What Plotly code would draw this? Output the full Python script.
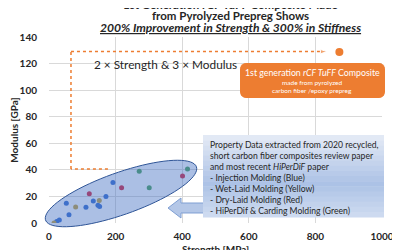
import numpy as np
import plotly.graph_objects as go

# data (strength MPa, modulus GPa)
inj_strength = [23, 31, 60, 52, 111, 133, 147, 152, 171, 192]
inj_modulus = [1.2, 2.3, 6.3, 14.8, 11.8, 16.6, 13.3, 12.5, 20, 30.4]
wet_strength = [15, 80, 151]
wet_modulus = [0, 12, 17]
dry_strength = [121, 218, 401]
dry_modulus = [22, 26.6, 35.4]
hpd_strength = [271, 301, 416]
hpd_modulus = [39, 26.6, 40.6]
tuff_strength = [872]
tuff_modulus = [128.7]
ref_strength = [177, 66, 66, 835]
ref_modulus = [40.6, 40.6, 129, 129]

# page body has an 8px margin, so the figure is drawn 8px in from the corner
OFF = 8
W, H = 400 - OFF, 250 - OFF
L, R, T, B = 49, 382, 37, 223   # plot area in screenshot pixels
FONT = "Lato"
INK = "#262626"


def px(x):
    return (x - L) / (R - L)


def py(y):
    return (B - y) / (B - T)


def to_path(xs, ys):
    return "M " + " L ".join(f"{px(x):.4f},{py(y):.4f}" for x, y in zip(xs, ys)) + " Z"


def label(x, y, text, size, color=INK, xanchor="center"):
    fig.add_annotation(x=px(x), y=py(y), xref="paper", yref="paper", text=text,
                       showarrow=False, xanchor=xanchor, yanchor="middle",
                       font=dict(family=FONT, size=size, color=color))


fig = go.Figure()

# ellipse around the literature data
cx, cy, a, b, ang = 121, 193.5, 80, 21, np.radians(-19.5)
t = np.linspace(0, 2 * np.pi, 80)
ex = cx + a * np.cos(t) * np.cos(ang) - b * np.sin(t) * np.sin(ang)
ey = cy + a * np.cos(t) * np.sin(ang) + b * np.sin(t) * np.cos(ang)
fig.add_shape(type="path", path=to_path(ex, ey), xref="paper", yref="paper",
              fillcolor="rgba(68,114,196,0.45)", line=dict(color="#2F5597", width=1), layer="above")

point_sets = [
    (inj_strength, inj_modulus, "#3A6FD0"),
    (wet_strength, wet_modulus, "#C9A53E"),
    (dry_strength, dry_modulus, "#D9263F"),
    (hpd_strength, hpd_modulus, "#4EA35E"),
]
for xs, ys, c in point_sets:
    fig.add_trace(go.Scatter(x=xs, y=ys, mode="markers",
                             marker=dict(color=c, size=5), hoverinfo="skip"))

fig.add_trace(go.Scatter(x=ref_strength, y=ref_modulus, mode="lines+markers",
                         line=dict(color="#ED7D31", width=1.5, dash="dot"),
                         marker=dict(symbol="arrow", angleref="previous", size=[0, 0, 0, 7],
                                     color="#ED7D31"),
                         hoverinfo="skip"))
fig.add_trace(go.Scatter(x=tuff_strength, y=tuff_modulus, mode="markers",
                         marker=dict(color="#ED7D31", size=8), hoverinfo="skip"))

# block arrow pointing left
ax = [168, 181, 181, 206, 206, 181, 181]
ay = [208, 198, 203, 203, 213, 213, 218]
fig.add_shape(type="path", path=to_path(ax, ay), xref="paper", yref="paper",
              fillcolor="#B4C7E7", line=dict(color="#7F9FD3", width=1), layer="above")

# gradient text box
x0, x1, y0, y1 = 203, 384, 135, 217
top, mid, bot = np.array([226, 233, 245]), np.array([172, 194, 230]), np.array([205, 218, 240])
n = 16
for i in range(n):
    f = i / (n - 1)
    c = top + (mid - top) * (f / 0.6) if f < 0.6 else mid + (bot - mid) * ((f - 0.6) / 0.4)
    ya = y0 + (y1 - y0) * i / n
    yb = y0 + (y1 - y0) * (i + 1) / n + 0.5
    fig.add_shape(type="rect", xref="paper", yref="paper", x0=px(x0), x1=px(x1),
                  y0=py(ya), y1=py(yb), fillcolor=f"rgb({int(c[0])},{int(c[1])},{int(c[2])})",
                  line=dict(width=0), layer="above")

box_lines = [
    "Property Data extracted from 2020 recycled,",
    "short carbon fiber composites review paper",
    "and most recent <i>HiPerDiF</i> paper",
    "- Injection Molding (Blue)",
    "- Wet-Laid Molding (Yellow)",
    "- Dry-Laid Molding (Red)",
    "- HiPerDif & Carding Molding (Green)",
]
for i, s in enumerate(box_lines):
    label(208, 145 + i * 11, s, 8.6, xanchor="left")

# orange rounded box
ox0, ox1, oy0, oy1, r = 240, 385, 63, 98, 6
pts = []
for (ccx, ccy, a0) in [(ox1 - r, oy0 + r, -90), (ox1 - r, oy1 - r, 0),
                       (ox0 + r, oy1 - r, 90), (ox0 + r, oy0 + r, 180)]:
    for k in np.linspace(a0, a0 + 90, 6):
        pts.append((ccx + r * np.cos(np.radians(k)), ccy + r * np.sin(np.radians(k))))
fig.add_shape(type="path", path=to_path([p[0] for p in pts], [p[1] for p in pts]),
              xref="paper", yref="paper", fillcolor="#ED7D31", line=dict(width=0), layer="above")
label(312, 72, "1st generation <i>rCF TuFF</i> Composite", 8.8, "white")
label(312, 82, "made from pyrolyzed", 6.5, "white")
label(312, 90.5, "carbon fiber /epoxy prepreg", 6.5, "white")

label(92, 64, "2 × Strength & 3 × Modulus", 11.8, xanchor="left")

# title lines (the first one is mostly cut off at the top, as in the reference)
label(230, 4.5, "<b>1st Generation rCF TuFF Composite Made</b>", 11.5)
label(230, 15, "<b>from Pyrolyzed Prepreg Shows</b>", 11.5)
label(230, 27.5, "<b><i><u>200% Improvement in Strength & 300% in Stiffness</u></i></b>", 12.1)

# x axis title, cut off at the bottom edge like the reference
label(215, 249, "<b>Strength [MPa]</b>", 10)

axis_common = dict(showgrid=True, gridcolor="#D9D9D9", gridwidth=1, zeroline=False,
                   showline=False, ticks="outside", tickcolor="rgba(0,0,0,0)",
                   tickfont=dict(family=FONT, size=10, color=INK),
                   fixedrange=True, automargin=False)
fig.update_xaxes(range=[0, 1000], dtick=200, ticklen=4,
                 tickprefix="<b>", ticksuffix="</b>", **axis_common)
fig.update_yaxes(range=[0, 140], dtick=20, ticklen=9,
                 title=dict(text="<b>Modulus [GPa]</b>", standoff=4,
                            font=dict(family=FONT, size=10, color=INK)),
                 tickprefix="<b>", ticksuffix="</b>", **axis_common)
fig.update_layout(width=W, height=H,
                  margin=dict(l=L - OFF, r=400 - R, t=T - OFF, b=250 - B),
                  showlegend=False, plot_bgcolor="white", paper_bgcolor="white")
fig.write_html("out.html")
